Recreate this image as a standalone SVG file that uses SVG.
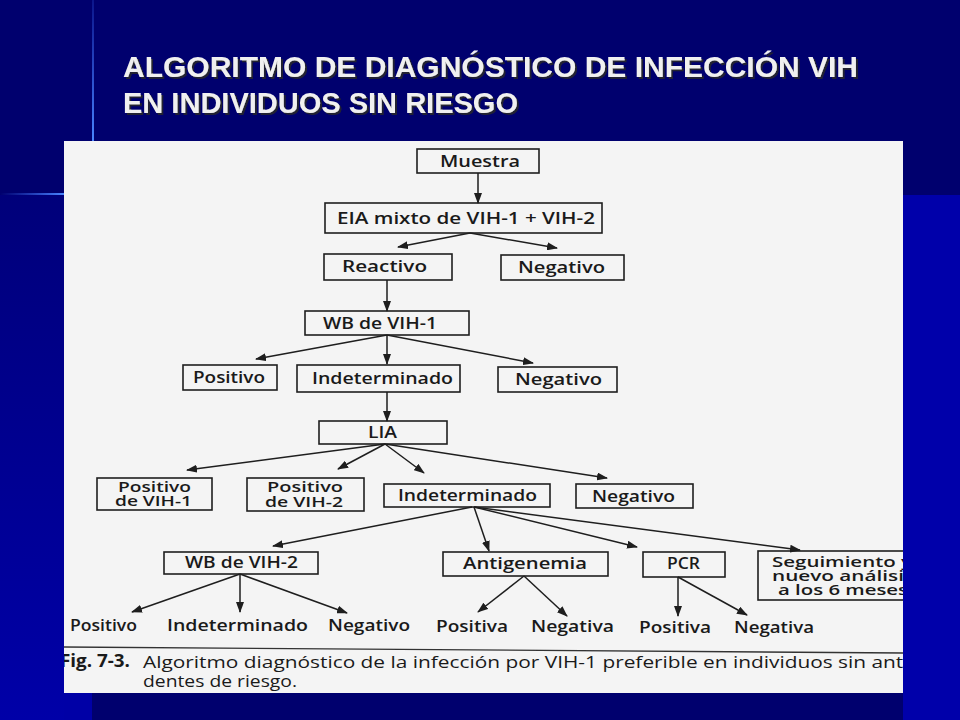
<svg xmlns="http://www.w3.org/2000/svg" width="960" height="720" viewBox="0 0 960 720">
<defs>
<style>
.box{fill:none;stroke:#1e1e1e;stroke-width:1.6}
.lbl{font-family:"Open Sans","Liberation Sans",sans-serif;font-weight:600;font-size:16px;fill:#1a1a1a}
.sm{font-size:14.5px}
.leaf{font-family:"Open Sans","Liberation Sans",sans-serif;font-weight:600;font-size:16px;fill:#1a1a1a}
.cap{font-family:"Open Sans","Liberation Sans",sans-serif;font-weight:400;font-size:17px;fill:#1a1a1a}
.capb{font-family:"Open Sans","Liberation Sans",sans-serif;font-weight:700;font-size:17px;fill:#1a1a1a}
.ttl{font-family:"Liberation Sans Narrow","Liberation Sans",sans-serif;font-weight:700;font-size:29px;fill:#f0f0f0}
.con line{stroke:#1e1e1e;stroke-width:1.5;marker-end:url(#ah)}
</style>
<marker id="ah" markerUnits="userSpaceOnUse" markerWidth="11" markerHeight="8" refX="10" refY="4" orient="auto">
<path d="M0,0 L11,4 L0,8 z" fill="#1e1e1e"/>
</marker>
<linearGradient id="lg" x1="0" y1="0" x2="0" y2="1">
<stop offset="0" stop-color="#00007a"/>
<stop offset="1" stop-color="#0000a8"/>
</linearGradient>
<linearGradient id="hl" x1="0" y1="0" x2="1" y2="0">
<stop offset="0" stop-color="#3a6cff" stop-opacity="0"/>
<stop offset="1" stop-color="#4a86ff"/>
</linearGradient>
<linearGradient id="vl" x1="0" y1="0" x2="0" y2="1">
<stop offset="0" stop-color="#3a6cff" stop-opacity="0.2"/>
<stop offset="1" stop-color="#4a86ff"/>
</linearGradient>
<filter id="sh" x="-5%" y="-20%" width="110%" height="140%">
<feDropShadow dx="2" dy="2" stdDeviation="0.6" flood-color="#202030"/>
</filter>
<clipPath id="pg"><rect x="64" y="141" width="839" height="552"/></clipPath>
</defs>

<!-- slide background -->
<rect x="0" y="0" width="960" height="720" fill="#00006e"/>
<rect x="0" y="195" width="64" height="525" fill="url(#lg)"/>
<rect x="64" y="693" width="28" height="27" fill="#0000a6"/>
<rect x="903" y="195" width="57" height="525" fill="#0000aa"/>
<rect x="92" y="0" width="2" height="141" fill="url(#vl)"/>
<rect x="0" y="193" width="64" height="2" fill="url(#hl)"/>

<g id="title" filter="url(#sh)">
<text class="ttl" x="123" y="77" textLength="735" lengthAdjust="spacingAndGlyphs">ALGORITMO DE DIAGNÓSTICO DE INFECCIÓN VIH</text>
<text class="ttl" x="123" y="113" textLength="395" lengthAdjust="spacingAndGlyphs">EN INDIVIDUOS SIN RIESGO</text>
</g>

<!-- scanned page -->
<rect x="64" y="141" width="839" height="552" fill="#f4f4f4"/>

<g clip-path="url(#pg)">
<g id="connectors" class="con">
<line x1="478" y1="173" x2="478" y2="203"/>
<line x1="470" y1="233" x2="398" y2="247"/>
<line x1="470" y1="233" x2="557" y2="248"/>
<line x1="387" y1="280" x2="387" y2="311"/>
<line x1="387" y1="335" x2="256" y2="359"/>
<line x1="387" y1="335" x2="387" y2="364"/>
<line x1="387" y1="335" x2="533" y2="363"/>
<line x1="387" y1="392" x2="387" y2="421"/>
<line x1="385" y1="444" x2="187" y2="470"/>
<line x1="385" y1="444" x2="338" y2="469"/>
<line x1="385" y1="444" x2="424" y2="473"/>
<line x1="385" y1="444" x2="607" y2="478"/>
<line x1="472" y1="507" x2="273" y2="546"/>
<line x1="474" y1="507" x2="489" y2="551"/>
<line x1="474" y1="507" x2="637" y2="547"/>
<line x1="474" y1="507" x2="800" y2="550"/>
<line x1="240" y1="574" x2="132" y2="612"/>
<line x1="240" y1="574" x2="240" y2="612"/>
<line x1="240" y1="574" x2="347" y2="613"/>
<line x1="524" y1="576" x2="478" y2="612"/>
<line x1="524" y1="576" x2="567" y2="616"/>
<line x1="678" y1="577" x2="678" y2="616"/>
<line x1="678" y1="577" x2="747" y2="615"/>
</g>

<g id="n-muestra"><rect class="box" x="417" y="149" width="122" height="24"/><text class="lbl" x="440" y="167" textLength="80" lengthAdjust="spacingAndGlyphs">Muestra</text></g>
<g id="n-eia"><rect class="box" x="325" y="203" width="277" height="30"/><text class="lbl" x="337" y="224" textLength="258" lengthAdjust="spacingAndGlyphs">EIA mixto de VIH-1 + VIH-2</text></g>
<g id="n-reactivo"><rect class="box" x="324" y="254" width="128" height="26"/><text class="lbl" x="342" y="272" textLength="85" lengthAdjust="spacingAndGlyphs">Reactivo</text></g>
<g id="n-negativo1"><rect class="box" x="501" y="255" width="123" height="25"/><text class="lbl" x="518" y="273" textLength="87" lengthAdjust="spacingAndGlyphs">Negativo</text></g>
<g id="n-wb1"><rect class="box" x="305" y="311" width="164" height="24"/><text class="lbl" x="323" y="329" textLength="114" lengthAdjust="spacingAndGlyphs">WB de VIH-1</text></g>
<g id="n-positivo1"><rect class="box" x="183" y="365" width="94" height="25"/><text class="lbl" x="193" y="383" textLength="72" lengthAdjust="spacingAndGlyphs">Positivo</text></g>
<g id="n-indet1"><rect class="box" x="297" y="365" width="163" height="27"/><text class="lbl" x="312" y="384" textLength="141" lengthAdjust="spacingAndGlyphs">Indeterminado</text></g>
<g id="n-negativo2"><rect class="box" x="498" y="367" width="119" height="25"/><text class="lbl" x="515" y="385" textLength="87" lengthAdjust="spacingAndGlyphs">Negativo</text></g>
<g id="n-lia"><rect class="box" x="319" y="421" width="128" height="23"/><text class="lbl" x="368" y="438" textLength="29" lengthAdjust="spacingAndGlyphs">LIA</text></g>
<g id="n-posvih1"><rect class="box" x="97" y="478" width="115" height="32"/><text class="lbl sm" x="118" y="492" textLength="73" lengthAdjust="spacingAndGlyphs">Positivo</text><text class="lbl sm" x="115" y="506" textLength="77" lengthAdjust="spacingAndGlyphs">de VIH-1</text></g>
<g id="n-posvih2"><rect class="box" x="247" y="478" width="117" height="33"/><text class="lbl sm" x="267" y="492" textLength="76" lengthAdjust="spacingAndGlyphs">Positivo</text><text class="lbl sm" x="265" y="507" textLength="78" lengthAdjust="spacingAndGlyphs">de VIH-2</text></g>
<g id="n-indet2"><rect class="box" x="384" y="484" width="166" height="23"/><text class="lbl" x="398" y="501" textLength="139" lengthAdjust="spacingAndGlyphs">Indeterminado</text></g>
<g id="n-negativo3"><rect class="box" x="576" y="484" width="117" height="24"/><text class="lbl" x="592" y="502" textLength="83" lengthAdjust="spacingAndGlyphs">Negativo</text></g>
<g id="n-wb2"><rect class="box" x="164" y="552" width="154" height="22"/><text class="lbl" x="185" y="568" textLength="113" lengthAdjust="spacingAndGlyphs">WB de VIH-2</text></g>
<g id="n-antigen"><rect class="box" x="443" y="552" width="165" height="24"/><text class="lbl" x="463" y="569" textLength="124" lengthAdjust="spacingAndGlyphs">Antigenemia</text></g>
<g id="n-pcr"><rect class="box" x="643" y="552" width="82" height="25"/><text class="lbl" x="667" y="569" textLength="33" lengthAdjust="spacingAndGlyphs">PCR</text></g>
<g id="n-seguimiento"><rect class="box" x="758" y="551" width="160" height="49"/><text class="lbl sm" x="772" y="567" textLength="140" lengthAdjust="spacingAndGlyphs">Seguimiento y</text><text class="lbl sm" x="772" y="581" textLength="142" lengthAdjust="spacingAndGlyphs">nuevo análisis</text><text class="lbl sm" x="778" y="595" textLength="130" lengthAdjust="spacingAndGlyphs">a los 6 meses</text></g>

<g id="n-leaf-pos1"><text class="leaf" x="70" y="631" textLength="67" lengthAdjust="spacingAndGlyphs">Positivo</text></g>
<g id="n-leaf-ind"><text class="leaf" x="167" y="631" textLength="141" lengthAdjust="spacingAndGlyphs">Indeterminado</text></g>
<g id="n-leaf-neg1"><text class="leaf" x="328" y="631" textLength="82" lengthAdjust="spacingAndGlyphs">Negativo</text></g>
<g id="n-leaf-pos2"><text class="leaf" x="436" y="632" textLength="72" lengthAdjust="spacingAndGlyphs">Positiva</text></g>
<g id="n-leaf-neg2"><text class="leaf" x="531" y="632" textLength="83" lengthAdjust="spacingAndGlyphs">Negativa</text></g>
<g id="n-leaf-pos3"><text class="leaf" x="639" y="633" textLength="72" lengthAdjust="spacingAndGlyphs">Positiva</text></g>
<g id="n-leaf-neg3"><text class="leaf" x="734" y="633" textLength="80" lengthAdjust="spacingAndGlyphs">Negativa</text></g>

<line x1="64" y1="647" x2="903" y2="653" stroke="#333" stroke-width="1.3"/>
<g id="caption">
<text class="capb" x="60" y="667" textLength="70" lengthAdjust="spacingAndGlyphs">Fig. 7-3.</text>
<text class="cap" x="143" y="668" textLength="772" lengthAdjust="spacingAndGlyphs">Algoritmo diagnóstico de la infección por VIH-1 preferible en individuos sin ante</text>
<text class="cap" x="143" y="687" textLength="154" lengthAdjust="spacingAndGlyphs">dentes de riesgo.</text>
</g>
</g>
</svg>
